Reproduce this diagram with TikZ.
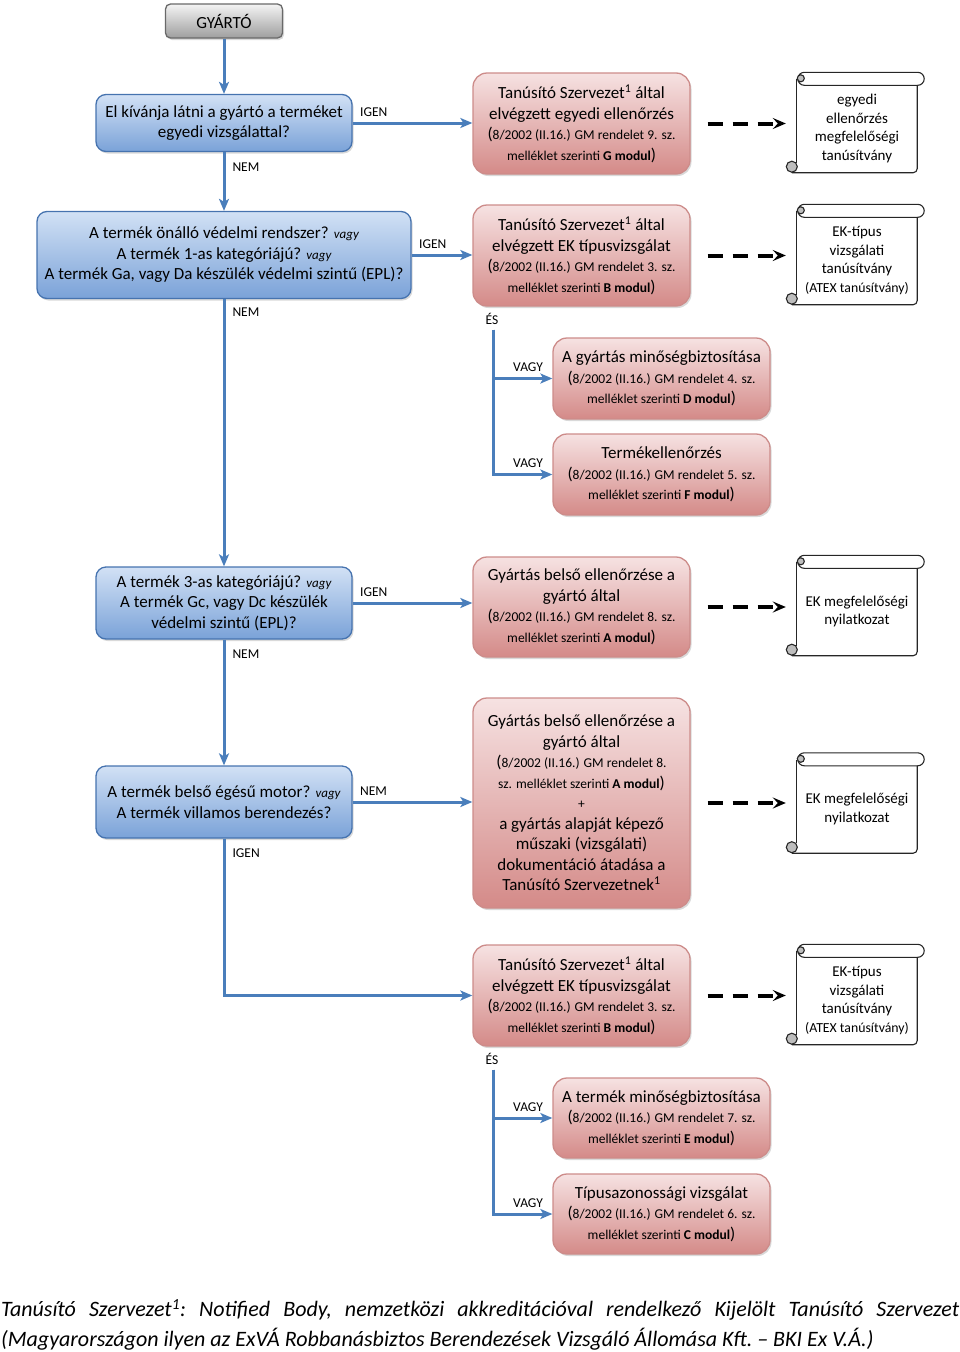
\documentclass[tikz,border=0pt]{standalone}
\usepackage{fontspec}
\setmainfont{Carlito}
\usepackage{tikz}
\usetikzlibrary{arrows.meta,positioning,calc,shadows}
\definecolor{qtop}{RGB}{210,225,245}
\definecolor{qbot}{RGB}{122,162,216}
\definecolor{qborder}{RGB}{70,115,175}
\definecolor{mtop}{RGB}{246,226,226}
\definecolor{mbot}{RGB}{212,138,136}
\definecolor{mborder}{RGB}{205,140,138}
\definecolor{gtop}{RGB}{244,244,244}
\definecolor{gbot}{RGB}{158,158,158}
\definecolor{gborder}{RGB}{105,105,105}
\definecolor{flowblue}{RGB}{74,126,187}
\definecolor{curlgray}{RGB}{190,190,190}
\newcommand\bigtxt{\fontsize{17}{20.5}\selectfont}
\newcommand\smalltxt{\fontsize{13.5}{20.5}\selectfont}
\newcommand\lbltxt{\fontsize{13.5}{16}\selectfont}
\newcommand\doctxt{\fontsize{15}{18.7}\selectfont}
\newcommand\notetxt{\fontsize{22}{30}\selectfont\itshape\frenchspacing\hyphenpenalty=10000}
\newcommand\bp[1]{{\bigtxt #1}}
\newcommand\vagyit{{\fontsize{13}{20.5}\selectfont\itshape vagy}}
\newcommand\tsz{Tanúsító Szervezet\textsuperscript{1}}
\newcommand\rendelet[2]{\smalltxt\bp{(}8/2002 (II.16.) GM rendelet #1. sz.\\\smalltxt melléklet szerinti \textbf{#2 modul}\bp{)}}

\begin{document}
\begin{tikzpicture}[x=1pt, y=-1pt, font=\bigtxt,
  box/.style={align=center, inner sep=0pt, line width=1.3pt,
    drop shadow={shadow xshift=1.5pt, shadow yshift=-2pt, opacity=0.3}},
  start/.style={box, draw=gborder, top color=gtop, bottom color=gbot, rounded corners=5pt},
  question/.style={box, draw=qborder, top color=qtop, bottom color=qbot, rounded corners=10pt},
  module/.style={box, draw=mborder, top color=mtop, bottom color=mbot, rounded corners=14pt},
  doc/.style={align=center, inner sep=0pt, minimum width=120pt, minimum height=88pt, font=\doctxt},
  scrollline/.style={line width=1.1pt, draw=black!85},
  flow/.style={-{Stealth[length=12pt,width=10pt,inset=3pt]}, line width=3pt, draw=flowblue},
  docarrow/.style={-{Stealth[length=13pt,width=11pt,inset=5pt]}, line width=4pt, dash pattern=on 15pt off 10pt},
  lbl/.style={font=\lbltxt, inner sep=0pt},
  note/.style={text width=958pt, align=justify, inner sep=0pt, font=\notetxt}]
\useasboundingbox (0,0) rectangle (960,1352);

% decision column
\node[start, minimum width=117pt, minimum height=34pt] (gyarto) at (224,21) {GYÁRTÓ};
\node[question, minimum width=256pt, minimum height=57pt] (q1) at (224,123)
  {El kívánja látni a gyártó a terméket\\egyedi vizsgálattal?};
\node[question, minimum width=374pt, minimum height=87pt] (q2) at (224,255)
  {A termék önálló védelmi rendszer? \vagyit\\A termék 1-as kategóriájú? \vagyit\\A termék Ga, vagy Da készülék védelmi szintű (EPL)?};
\node[question, minimum width=256pt, minimum height=72pt] (q3) at (224,603)
  {A termék 3-as kategóriájú? \vagyit\\A termék Gc, vagy Dc készülék\\védelmi szintű (EPL)?};
\node[question, minimum width=256pt, minimum height=72pt] (q4) at (224,802)
  {A termék belső égésű motor? \vagyit\\A termék villamos berendezés?};

% modules
\node[module, minimum width=217pt, minimum height=101pt] (r1) at (581.5,123.5)
  {\tsz{} által\\elvégzett egyedi ellenőrzés\\\rendelet{9}{G}};
\node[module, minimum width=217pt, minimum height=101pt] (r2) at (581.5,255.5)
  {\tsz{} által\\elvégzett EK típusvizsgálat\\\rendelet{3}{B}};
\node[module, minimum width=217pt, minimum height=81pt] (r3) at (661.5,378.5)
  {A gyártás minőségbiztosítása\\\rendelet{4}{D}};
\node[module, minimum width=217pt, minimum height=81pt] (r4) at (661.5,474.5)
  {Termékellenőrzés\\\rendelet{5}{F}};
\node[module, minimum width=217pt, minimum height=100pt] (r5) at (581.5,607)
  {Gyártás belső ellenőrzése a\\gyártó által\\\rendelet{8}{A}};
\node[module, minimum width=217pt, minimum height=210pt] (r6) at (581.5,803)
  {Gyártás belső ellenőrzése a\\gyártó által\\\smalltxt\bp{(}8/2002 (II.16.) GM rendelet 8.\\\smalltxt sz. melléklet szerinti \textbf{A modul}\bp{)}\\\smalltxt +\\a gyártás alapját képező\\műszaki (vizsgálati)\\dokumentáció átadása a\\Tanúsító Szervezetnek\textsuperscript{1}};
\node[module, minimum width=217pt, minimum height=101pt] (r7) at (581.5,995.5)
  {\tsz{} által\\elvégzett EK típusvizsgálat\\\rendelet{3}{B}};
\node[module, minimum width=217pt, minimum height=80pt] (r8) at (661.5,1118)
  {A termék minőségbiztosítása\\\rendelet{7}{E}};
\node[module, minimum width=217pt, minimum height=80pt] (r9) at (661.5,1214)
  {Típusazonossági vizsgálat\\\rendelet{6}{C}};

% documents
\node[doc] (s1) at (857,128.5) {egyedi\\ellenőrzés\\megfelelőségi\\tanúsítvány};
\node[doc] (s2) at (857,260.5) {EK-típus\\vizsgálati\\tanúsítvány\\{\fontsize{13.8}{18.7}\selectfont(ATEX tanúsítvány)}};
\node[doc] (s3) at (857,611.5) {EK megfelelőségi\\nyilatkozat};
\node[doc] (s4) at (857,809) {EK megfelelőségi\\nyilatkozat};
\node[doc] (s5) at (857,1000.5) {EK-típus\\vizsgálati\\tanúsítvány\\{\fontsize{13.8}{18.7}\selectfont(ATEX tanúsítvány)}};
\foreach \s in {s1,s2,s3,s4,s5} {
  \draw[scrollline, rounded corners=6.5pt] ($(\s.north west)+(1,-12)$) rectangle ($(\s.north east)+(7,1)$);
  \draw[scrollline] ($(\s.north west)+(0,-5)$) -- ($(\s.south west)+(0,-10)$);
  \draw[scrollline, rounded corners=4pt] ($(\s.north east)+(0,1)$) -- (\s.south east) -- ($(\s.south west)+(-5,0)$);
  \draw[scrollline, fill=curlgray] ($(\s.south west)+(-5,-6)$) circle (5.5pt);
  \draw[scrollline, fill=curlgray] ($(\s.north west)+(4,-6)$) circle (3.5pt);
}

% flow
\draw[flow] (gyarto) -- (q1);
\draw[flow] (q1) -- node[lbl, pos=0, anchor=north west, xshift=7pt, yshift=-9pt] (nem1) {NEM} (q2);
\draw[flow] (q2) -- node[lbl, pos=0, anchor=north west, xshift=7pt, yshift=-7pt] (nem2) {NEM} (q3);
\draw[flow] (q3) -- node[lbl, pos=0, anchor=north west, xshift=7pt, yshift=-9pt] (nem3) {NEM} (q4);
\draw[flow] (q4) |- node[lbl, pos=0, anchor=north west, xshift=7pt, yshift=-9pt] (igen4) {IGEN} (r7);
\draw[flow] (q1.east) -- node[lbl, pos=0, anchor=south west, xshift=6pt, yshift=5pt] (igen1) {IGEN} (q1.east -| r1.west);
\draw[flow] (q2.east) -- node[lbl, pos=0, anchor=south west, xshift=6pt, yshift=5pt] (igen2) {IGEN} (q2.east -| r2.west);
\draw[flow] (q3.east) -- node[lbl, pos=0, anchor=south west, xshift=6pt, yshift=5pt] (igen3) {IGEN} (q3.east -| r5.west);
\draw[flow] (q4.east) -- node[lbl, pos=0, anchor=south west, xshift=6pt, yshift=5pt] (nem4) {NEM} (q4.east -| r6.west);

% ÉS / VAGY branches
\node[lbl, anchor=north west] (es1) at ($(r2.south west)+(13,6)$) {ÉS};
\coordinate (split1) at ($(r2.south west)+(21,23)$);
\draw[flow] (split1) |- node[lbl, pos=1, anchor=south east, xshift=-8pt, yshift=5pt] (vagy1) {VAGY} (r3);
\draw[flow] (split1) |- node[lbl, pos=1, anchor=south east, xshift=-8pt, yshift=5pt] (vagy2) {VAGY} (r4);
\node[lbl, anchor=north west] (es2) at ($(r7.south west)+(13,6)$) {ÉS};
\coordinate (split2) at ($(r7.south west)+(21,23)$);
\draw[flow] (split2) |- node[lbl, pos=1, anchor=south east, xshift=-8pt, yshift=5pt] (vagy3) {VAGY} (r8);
\draw[flow] (split2) |- node[lbl, pos=1, anchor=south east, xshift=-8pt, yshift=5pt] (vagy4) {VAGY} (r9);

% documents issued
\foreach \r/\s in {r1/s1, r2/s2, r5/s3, r6/s4, r7/s5}
  \draw[docarrow] ($(\r.east)+(17,0)$) -- ($(\r.east -| \s.west)+(-11,0)$);

% footnote
\node[note, anchor=north west] (fn) at (1,1299)
  {Tanúsító Szervezet\textsuperscript{1}: Notified Body, nemzetközi akkreditációval rendelkező Kijelölt Tanúsító Szervezet\linebreak
   (Magyarországon ilyen az ExVÁ Robbanásbiztos Berendezések Vizsgáló Állomása Kft. – BKI Ex V.Á.)};
\end{tikzpicture}
\end{document}
